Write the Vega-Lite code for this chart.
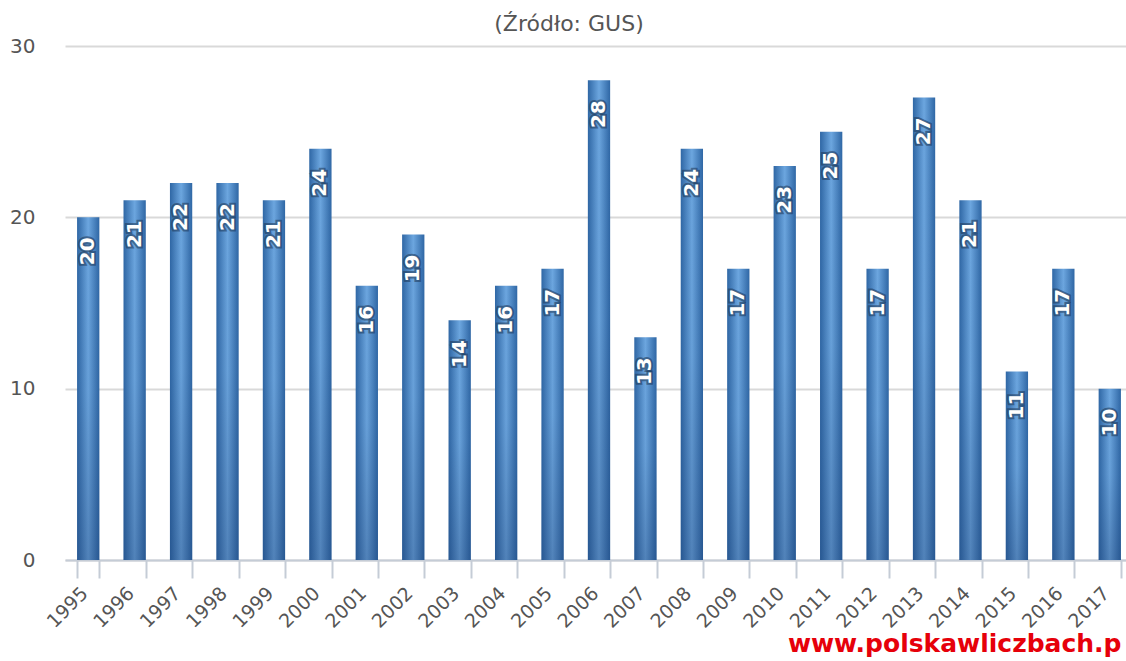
{
  "$schema": "https://vega.github.io/schema/vega-lite/v6.json",
  "width": 1068,
  "height": 514,
  "autosize": {"type": "none"},
  "padding": {"left": 65, "top": 46, "right": 0, "bottom": 101},
  "background": "white",
  "title": {
    "text": "(Źródło: GUS)",
    "font": "DejaVu Sans",
    "fontSize": 22,
    "fontWeight": "normal",
    "color": "#555555",
    "anchor": "middle",
    "dx": -30,
    "offset": 0
  },
  "config": {
    "view": {"stroke": null},
    "font": "DejaVu Sans"
  },
  "data": {
    "values": [
      {"rok": "1995", "wartosc": 20},
      {"rok": "1996", "wartosc": 21},
      {"rok": "1997", "wartosc": 22},
      {"rok": "1998", "wartosc": 22},
      {"rok": "1999", "wartosc": 21},
      {"rok": "2000", "wartosc": 24},
      {"rok": "2001", "wartosc": 16},
      {"rok": "2002", "wartosc": 19},
      {"rok": "2003", "wartosc": 14},
      {"rok": "2004", "wartosc": 16},
      {"rok": "2005", "wartosc": 17},
      {"rok": "2006", "wartosc": 28},
      {"rok": "2007", "wartosc": 13},
      {"rok": "2008", "wartosc": 24},
      {"rok": "2009", "wartosc": 17},
      {"rok": "2010", "wartosc": 23},
      {"rok": "2011", "wartosc": 25},
      {"rok": "2012", "wartosc": 17},
      {"rok": "2013", "wartosc": 27},
      {"rok": "2014", "wartosc": 21},
      {"rok": "2015", "wartosc": 11},
      {"rok": "2016", "wartosc": 17},
      {"rok": "2017", "wartosc": 10}
    ]
  },
  "encoding": {
    "x": {
      "field": "rok",
      "type": "ordinal",
      "sort": null,
      "scale": {"paddingInner": 0.52, "paddingOuter": 0.26},
      "axis": {
        "title": "www.polskawliczbach.p",
        "titleFont": "DejaVu Sans",
        "titleFontSize": 25,
        "titleFontWeight": "bold",
        "titleColor": "#e6000a",
        "titleAnchor": "end",
        "titleAlign": "right",
        "titleX": 1056,
        "titlePadding": 0,
        "labelAngle": -45,
        "labelAlign": "right",
        "labelBaseline": "middle",
        "labelFontSize": 19,
        "labelColor": "#555555",
        "labelPadding": 12,
        "labelOffset": -4,
        "tickBand": "extent",
        "tickSize": 18,
        "tickWidth": 2,
        "tickColor": "#c5ccd6",
        "domainColor": "#c5ccd6",
        "domainWidth": 2,
        "grid": false
      }
    },
    "y": {
      "field": "wartosc",
      "type": "quantitative",
      "scale": {"domain": [0, 30], "nice": false},
      "axis": {
        "title": null,
        "values": [0, 10, 20, 30],
        "labelFontSize": 20,
        "labelColor": "#555555",
        "labelPadding": 30,
        "ticks": false,
        "domain": false,
        "grid": true,
        "gridColor": "#d9d9d9",
        "gridWidth": 2
      }
    }
  },
  "layer": [
    {
      "mark": {
        "type": "bar",
        "color": {
          "gradient": "linear",
          "x1": 0, "y1": 0, "x2": 1, "y2": 0,
          "stops": [
            {"offset": 0, "color": "#2f67a5"},
            {"offset": 0.5, "color": "#6ca6df"},
            {"offset": 1, "color": "#2f67a5"}
          ]
        }
      }
    },
    {
      "mark": {
        "type": "bar",
        "color": {
          "gradient": "linear",
          "x1": 0, "y1": 0, "x2": 0, "y2": 1,
          "stops": [
            {"offset": 0, "color": "rgba(20,50,100,0)"},
            {"offset": 0.5, "color": "rgba(20,50,100,0.05)"},
            {"offset": 1, "color": "rgba(20,50,100,0.3)"}
          ]
        }
      }
    },
    {
      "mark": {
        "type": "text",
        "angle": -90,
        "align": "right",
        "baseline": "middle",
        "dx": -20,
        "font": "DejaVu Sans",
        "fontSize": 20,
        "fontWeight": "bold",
        "fill": "#1c3553",
        "stroke": "#1c3553",
        "strokeWidth": 4,
        "strokeOpacity": 0.55,
        "fillOpacity": 0.55
      },
      "encoding": {"text": {"field": "wartosc", "type": "quantitative"}}
    },
    {
      "mark": {
        "type": "text",
        "angle": -90,
        "align": "right",
        "baseline": "middle",
        "dx": -20,
        "font": "DejaVu Sans",
        "fontSize": 20,
        "fontWeight": "bold",
        "color": "white"
      },
      "encoding": {"text": {"field": "wartosc", "type": "quantitative"}}
    }
  ]
}
